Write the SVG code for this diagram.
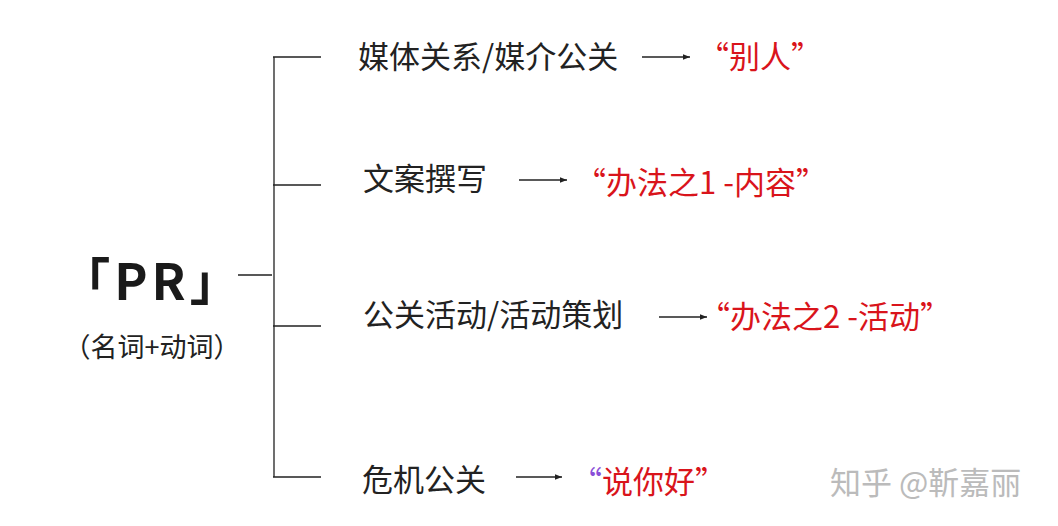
<svg xmlns="http://www.w3.org/2000/svg" width="1058" height="526" viewBox="0 0 1058 526">
<style>
.t{font-family:"Noto Sans CJK SC","Noto Sans",sans-serif;font-size:31px;fill:#222}
.r{font-family:"Noto Sans CJK SC","Noto Sans",sans-serif;font-size:31px;fill:#d9141b}
.l{stroke:#222;stroke-width:1.3;fill:none}
.a{stroke:#222;stroke-width:1.3;fill:none;marker-end:url(#ah)}
</style>
<defs><marker id="ah" viewBox="0 0 10 10" refX="10" refY="5" markerWidth="7" markerHeight="7" markerUnits="userSpaceOnUse" orient="auto"><path d="M0,1 L10,5 L0,9 z" fill="#222"/></marker></defs>
<rect width="1058" height="526" fill="#fff"/>
<g id="connectors">
<path class="l" d="M238,275 H272 M274,57 V477 M273,57 H321 M273,185 H321 M273,326 H321 M273,477 H321"/>
<path class="a" d="M642,57 H690"/>
<path class="a" d="M519,180 H567"/>
<path class="a" d="M659,317 H707"/>
<path class="a" d="M516,477 H562"/>
</g>
<g id="pr">
<text x="152" y="300" text-anchor="middle" style="font-family:'Noto Sans CJK SC',sans-serif;font-size:50px;font-weight:bold;fill:#1a1a1a;letter-spacing:4px">「PR」</text>
<text x="152" y="357" text-anchor="middle" style="font-family:'Noto Sans CJK SC',sans-serif;font-size:27px;fill:#222">（名词+动词）</text>
</g>
<g id="n1"><text class="t" x="358" y="68">媒体关系/媒介公关</text><text class="r" x="698" y="68">“别人”</text></g>
<g id="n2"><text class="t" x="363" y="190">文案撰写</text><text class="r" x="575" y="194">“办法之1 -内容”</text></g>
<g id="n3"><text class="t" x="363" y="326">公关活动/活动策划</text><text class="r" x="699" y="328">“办法之2 -活动”</text></g>
<g id="n4"><text class="t" x="362" y="491">危机公关</text><text class="r" x="571" y="493"><tspan fill="#8a4fd8">“</tspan>说你好”</text></g>
<text x="830" y="494" style="font-family:'Noto Sans CJK SC',sans-serif;font-size:31px;fill:#bbb">知乎 @靳嘉丽</text>
</svg>
